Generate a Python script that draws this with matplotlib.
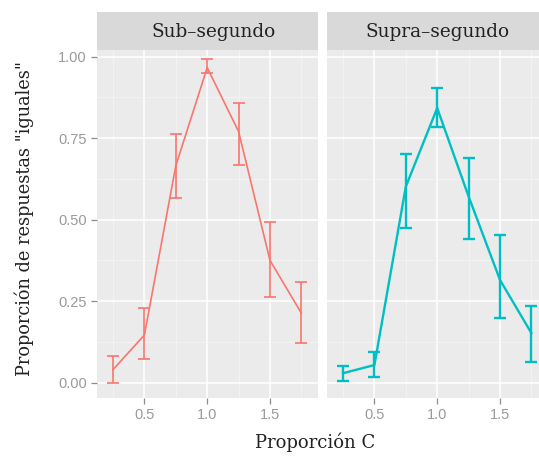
import numpy as np
import matplotlib
matplotlib.use('Agg')
import matplotlib.pyplot as plt
from matplotlib.patches import Rectangle

# data
prop_c = [0.25, 0.5, 0.75, 1.0, 1.25, 1.5, 1.75]
panels = ['Sub–segundo', 'Supra–segundo']
colors = ['#F8766D', '#00BFC4']

sub_mean = [0.04, 0.146, 0.665, 0.966, 0.77, 0.375, 0.213]
sub_lo = [0.0, 0.072, 0.566, 0.951, 0.666, 0.264, 0.123]
sub_hi = [0.082, 0.228, 0.763, 0.992, 0.857, 0.494, 0.31]

supra_mean = [0.029, 0.054, 0.601, 0.842, 0.571, 0.315, 0.152]
supra_lo = [0.005, 0.017, 0.475, 0.785, 0.44, 0.198, 0.064]
supra_hi = [0.051, 0.093, 0.70, 0.905, 0.69, 0.453, 0.235]

means = [sub_mean, supra_mean]
los = [sub_lo, supra_lo]
his = [sub_hi, supra_hi]
lws = [1.2, 1.7]
strip_x = [0.53, 0.5]

W, H = 539, 457
fig = plt.figure(figsize=(W / 100, H / 100), dpi=100)
serif = 'DejaVu Serif'

pw = 221 / W
lefts = [96.7 / W, 326.7 / W]
bottom = 1 - 398.3 / H
height = (398.3 - 50) / H

for i in range(2):
    ax = fig.add_axes([lefts[i], bottom, pw, height])
    ax.set_facecolor('#EBEBEB')
    for s in ax.spines.values():
        s.set_visible(False)
    ax.set_xlim(0.12, 1.88)
    ax.set_ylim(-0.048, 1.02)
    ax.set_xticks([0.5, 1.0, 1.5])
    ax.set_xticklabels(['0.5', '1.0', '1.5'])
    ax.set_xticks([0.25, 0.75, 1.25, 1.75], minor=True)
    ax.set_yticks([0, 0.25, 0.5, 0.75, 1.0])
    ax.set_yticks([0.125, 0.375, 0.625, 0.875], minor=True)
    ax.grid(which='major', color='white', lw=1.1)
    ax.grid(which='minor', color='#F4F4F4', lw=0.6)
    ax.set_axisbelow(True)
    ax.tick_params(which='minor', length=0)
    ax.tick_params(which='major', color='#8C8C8C', length=4, width=0.9,
                   labelcolor='#9A9A9A', labelsize=10.5, pad=3)
    if i == 0:
        ax.set_yticklabels(['0.00', '0.25', '0.50', '0.75', '1.00'])
    else:
        ax.tick_params(axis='y', left=False, labelleft=False)
    for lab in ax.get_xticklabels() + ax.get_yticklabels():
        lab.set_family('Liberation Sans')

    m = np.array(means[i])
    lo = np.array(los[i])
    hi = np.array(his[i])
    ax.plot(prop_c, m, color=colors[i], lw=lws[i])
    ax.errorbar(prop_c, m, yerr=[m - lo, hi - m], fmt='none',
                ecolor=colors[i], elinewidth=lws[i], capsize=4.4,
                capthick=lws[i])

    # facet strip
    ax.add_patch(Rectangle((0, 1.0), 1, 38.3 / 348.3, transform=ax.transAxes,
                           facecolor='#D9D9D9', edgecolor='none', clip_on=False))
    ax.text(strip_x[i], 1.0 + 18 / 348.3, panels[i], transform=ax.transAxes,
            ha='center', va='center', fontsize=13.3, family=serif,
            color='#222222')

fig.text(315 / W, 1 - 442 / H, 'Proporción C', ha='center', va='center',
         fontsize=13, family=serif, color='#222222')
fig.text(24 / W, 1 - 218 / H, 'Proporción de respuestas "iguales"',
         ha='center', va='center', rotation=90, fontsize=12.8,
         family=serif, color='#222222')

fig.savefig('out.png', dpi=100)
